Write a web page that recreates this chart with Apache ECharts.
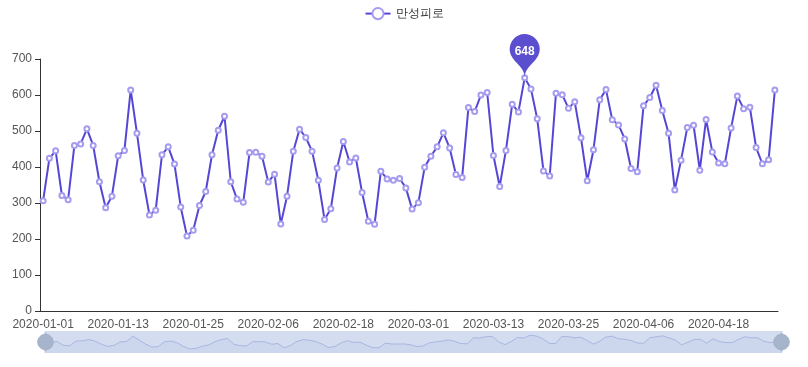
<!DOCTYPE html>
<html>
<head>
<meta charset="utf-8">
<script src="https://cdn.jsdelivr.net/npm/echarts@6/dist/echarts.min.js"></script>
<style>html,body{margin:0;padding:0;background:#fff}#c{width:808px;height:367px}</style>
</head>
<body>
<div id="c"></div>
<script>
const seriesName = '만성피로';
const startDate = '2020-01-01';
const values = [
306,424,445,321,309,460,464,506,460,359,
287,319,431,446,614,494,364,267,280,434,
456,408,289,208,224,293,332,434,502,541,
359,311,302,440,441,430,358,380,242,319,
444,505,482,444,363,254,284,397,471,414,
425,329,249,241,388,367,363,368,342,283,
301,399,430,456,495,453,379,371,565,554,
600,607,432,346,446,574,553,648,617,534,
389,375,605,601,563,581,481,362,448,587,
615,531,517,478,396,387,570,593,627,557,
494,336,419,510,516,391,532,442,411,409,
508,597,562,566,454,409,420,614
];
const yTicks = [0,100,200,300,400,500,600,700];

function makeDates(start, n) {
  const out = [];
  const d = new Date(start + 'T00:00:00Z');
  for (let i = 0; i < n; i++) {
    const t = new Date(d.getTime() + i * 86400000);
    out.push(t.toISOString().slice(0, 10));
  }
  return out;
}
const categories = makeDates(startDate, values.length);

const chart = echarts.init(document.getElementById('c'), null, {renderer: 'canvas'});
chart.setOption({
  animation: false,
  legend: { top: 2, data: [seriesName], textStyle: { color: '#333', fontSize: 12 } },
  grid: { left: 40, right: 30, top: 59, bottom: 56, containLabel: false },
  xAxis: {
    type: 'category',
    data: categories,
    axisLine: { lineStyle: { color: '#333' } },
    axisTick: { alignWithLabel: true, interval: function (i) { return i % 12 === 6; } },
    axisLabel: { color: '#555', fontSize: 12, interval: 11 }
  },
  yAxis: {
    type: 'value',
    min: yTicks[0], max: yTicks[yTicks.length - 1], interval: 100,
    splitLine: { show: false },
    axisLine: { show: true, lineStyle: { color: '#333' } },
    axisTick: { show: true },
    axisLabel: { color: '#555', fontSize: 12 }
  },
  dataZoom: [
    { type: 'inside', start: 0, end: 100 },
    {
      type: 'slider', start: 0, end: 100, left: 42, right: 28, bottom: 14, height: 22,
      brushSelect: false,
      moveHandleSize: 0,
      showDetail: false,
      borderColor: 'transparent',
      backgroundColor: '#e0e4ee',
      fillerColor: 'rgba(135,175,274,0.12)',
      dataBackground: {
        lineStyle: { color: '#bdbcec', opacity: 0.9 },
        areaStyle: { color: '#cfcff1', opacity: 0.8 }
      },
      handleIcon: 'path://M10.7,11.9v-1.3H9.3v1.3c-4.9,0.3-8.8,4.4-8.8,9.4c0,5,3.9,9.1,8.8,9.4v1.3h1.3v-1.3c4.9-0.3,8.8-4.4,8.8-9.4C19.5,16.3,15.6,12.2,10.7,11.9z M13.3,24.4H6.7V23h6.6V24.4z M13.3,19.6H6.7v-1.4h6.6V19.6z',
      handleSize: '80%',
      handleStyle: { color: '#a5b4cb', borderColor: '#a5b4cb' }
    }
  ],
  series: [{
    name: seriesName,
    type: 'line',
    data: values,
    symbol: 'emptyCircle',
    symbolSize: 5,
    showAllSymbol: true,
    itemStyle: { color: '#a59cf0', borderWidth: 1 },
    lineStyle: { color: '#5547d4', width: 2 },
    markPoint: {
      data: [{ type: 'max', name: 'max' }],
      itemStyle: { color: '#5b4fcf' },
      label: { color: '#fff', fontWeight: 'bold' }
    }
  }]
});
</script>
</body>
</html>
